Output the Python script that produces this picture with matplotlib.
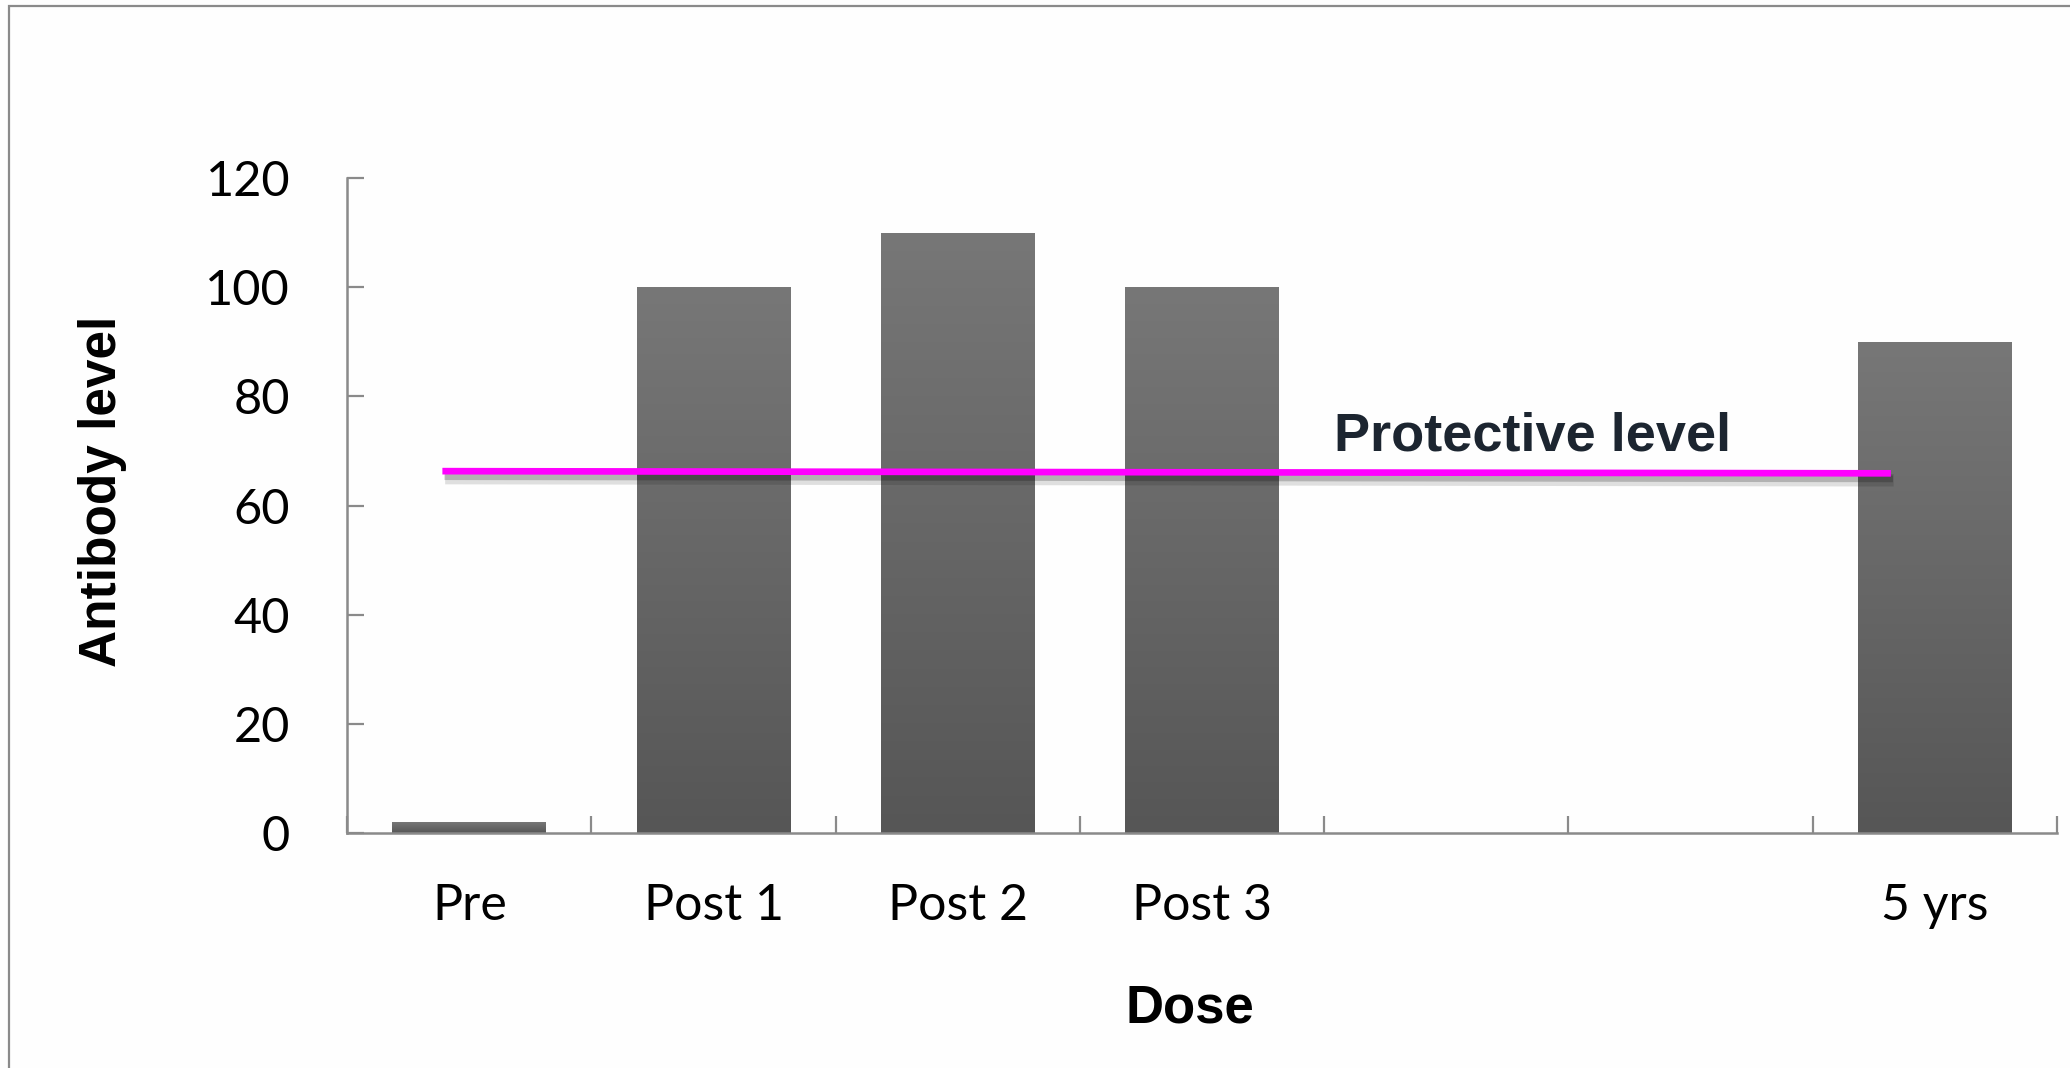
import matplotlib.pyplot as plt
import matplotlib.patheffects as pe
import numpy as np
from matplotlib.colors import LinearSegmentedColormap
from matplotlib.patches import Rectangle

# Data
doses = ["Pre", "Post 1", "Post 2", "Post 3", "", "", "5 yrs"]
antibody = [2, 100, 110, 100, 0, 0, 90]
protective_level = [66.3, 65.9]
protective_x = [-0.11, 5.82]
y_ticks = [0, 20, 40, 60, 80, 100, 120]

fig = plt.figure(figsize=(20.7, 10.68), dpi=100)
fig.patch.set_facecolor("#fefefe")
ax = fig.add_axes([0.1677, 0.2200, 0.9937 - 0.1677, 0.8333 - 0.2200])
ax.set_facecolor("none")

# Outer frame (only top and left edges visible in the original)
fig.add_artist(Rectangle((9 / 2070, -0.1), 1.2, (1068 - 6) / 1068 + 0.1,
                         transform=fig.transFigure, fill=False,
                         edgecolor="#8a8a8a", linewidth=1.6))

x = np.arange(len(doses))
bars = ax.bar(x, antibody, width=0.63, color="none", edgecolor="none", zorder=2)

# vertical gradient fill for each bar
cmap = LinearSegmentedColormap.from_list("bar", ["#565656", "#777777"])
grad = np.linspace(0, 1, 256).reshape(-1, 1)
for b in bars:
    if b.get_height() <= 0:
        continue
    x0, w, h = b.get_x(), b.get_width(), b.get_height()
    im = ax.imshow(grad, cmap=cmap, origin="lower", aspect="auto",
                   extent=[x0, x0 + w, 0, h], zorder=2)
    im.set_clip_path(b)

# Protective level line with soft shadow
ax.plot(protective_x, protective_level, color="#ff00ff", linewidth=4.8,
        solid_capstyle="butt", zorder=4,
        path_effects=[pe.SimpleLineShadow(offset=(2, -5), shadow_color="#000000",
                                          alpha=0.12, linewidth=9),
                      pe.SimpleLineShadow(offset=(1.5, -4), shadow_color="#000000",
                                          alpha=0.2, rho=0.5),
                      pe.Normal()])
ax.text(3.54, 70.0, "Protective level", fontsize=39, fontweight="bold",
        family="Liberation Sans", color="#1c2530", ha="left", va="baseline", zorder=5)

ax.set_xlim(-0.5, len(doses) - 0.5)
ax.set_ylim(0, 120)

ax.set_yticks(y_ticks)
ax.set_yticklabels([str(v) for v in y_ticks], fontsize=35, family="Lato")
ax.set_xticks(x)
ax.set_xticklabels(doses, fontsize=36, family="Lato")
ax.set_xticks(np.arange(len(doses) + 1) - 0.5, minor=True)

ax.tick_params(axis="y", direction="in", length=12, width=1.6, color="#8a8a8a", pad=41)
ax.tick_params(axis="x", which="major", length=0, pad=36)
ax.tick_params(axis="x", which="minor", direction="in", length=12, width=1.6, color="#8a8a8a")

for side in ["top", "right"]:
    ax.spines[side].set_visible(False)
for side in ["left", "bottom"]:
    ax.spines[side].set_color("#8a8a8a")
    ax.spines[side].set_linewidth(1.8)

ax.set_ylabel("Antibody level", fontsize=37, fontweight="bold", family="Liberation Sans")
ax.yaxis.set_label_coords(-0.1287, 0.522)
ax.set_xlabel("Dose", fontsize=38, fontweight="bold", family="Liberation Sans")
ax.xaxis.set_label_coords(0.493, -0.230)

fig.savefig("out.png", dpi=100, facecolor=fig.get_facecolor())
